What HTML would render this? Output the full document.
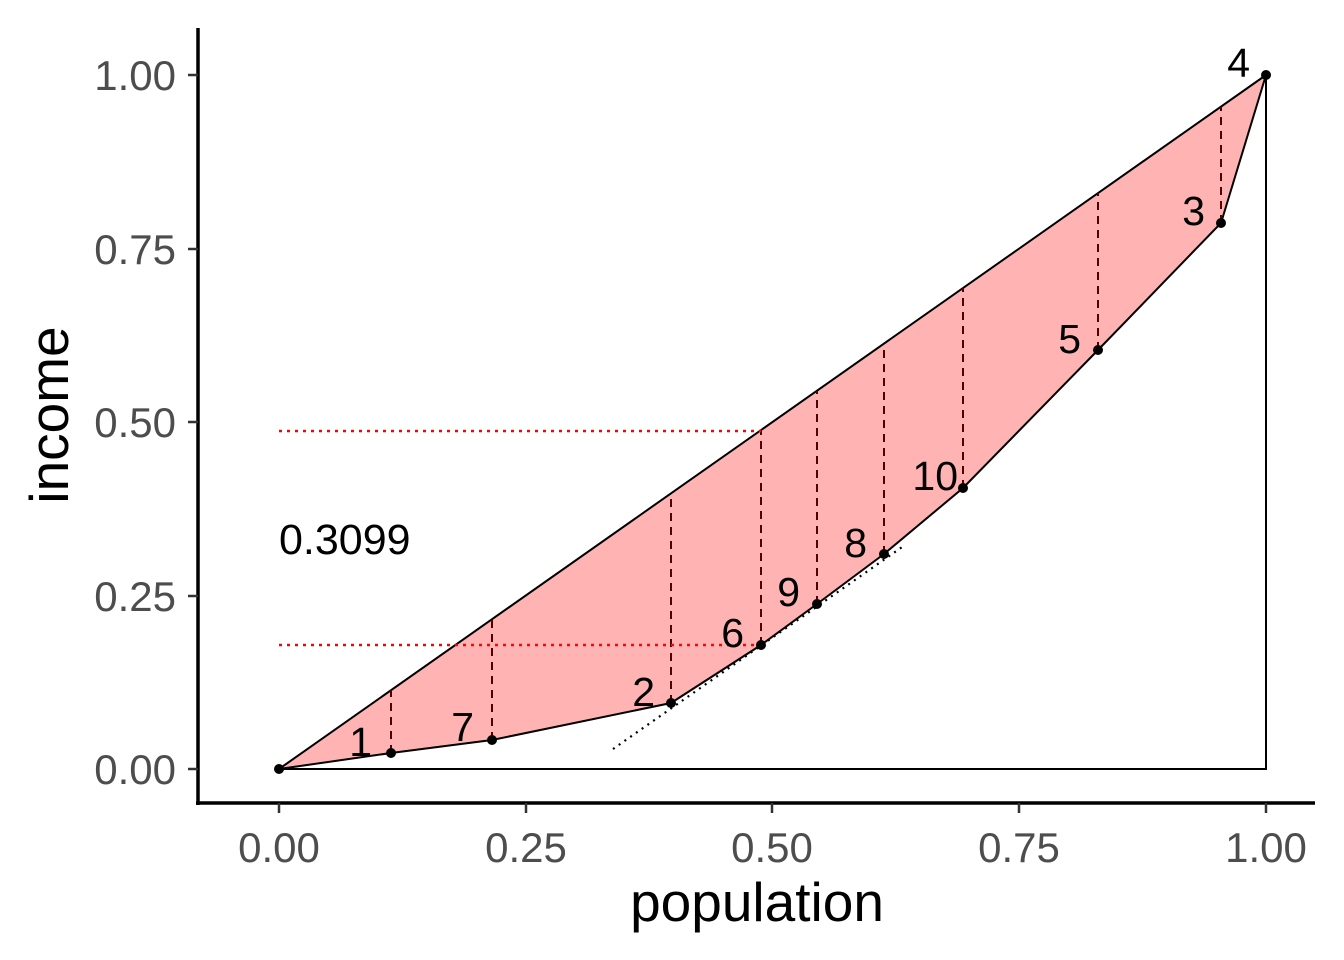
<!DOCTYPE html>
<html><head><meta charset="utf-8"><style>
html,body{margin:0;padding:0;background:#fff;}
svg{display:block;}
text{font-family:"Liberation Sans",sans-serif;}
</style></head><body>
<svg width="1344" height="960" viewBox="0 0 1344 960" xmlns="http://www.w3.org/2000/svg">
<polygon points="279,769 391,753 492,740 671,703 761,645 817,604 884,554 963,488 1098,350 1221,223 1266,75" fill="#ffb3b3" stroke="none"/>
<line x1="279" y1="769" x2="1266" y2="75" stroke="#000" stroke-width="2"/>
<polyline points="279,769 391,753 492,740 671,703 761,645 817,604 884,554 963,488 1098,350 1221,223 1266,75" fill="none" stroke="#000" stroke-width="2"/>
<polyline points="1266,75 1266,769 279,769" fill="none" stroke="#000" stroke-width="2"/>
<g stroke="#550000" stroke-width="2" stroke-dasharray="8,6">
<line x1="391" y1="753" x2="391" y2="690"/>
<line x1="492" y1="740" x2="492" y2="619"/>
<line x1="671" y1="703" x2="671" y2="493"/>
<line x1="761" y1="645" x2="761" y2="430"/>
<line x1="817" y1="604" x2="817" y2="391"/>
<line x1="884" y1="554" x2="884" y2="344"/>
<line x1="963" y1="488" x2="963" y2="288"/>
<line x1="1098" y1="350" x2="1098" y2="193"/>
<line x1="1221" y1="223" x2="1221" y2="107"/>
</g>
<g stroke="#ff0000" stroke-width="2.5" stroke-dasharray="3,5">
<line x1="279" y1="431" x2="761" y2="431"/>
<line x1="279" y1="645" x2="761" y2="645"/>
</g>
<line x1="613" y1="749" x2="905" y2="545" stroke="#000" stroke-width="2.2" stroke-dasharray="2,5"/>
<g fill="#000">
<circle cx="279" cy="769" r="5"/><circle cx="391" cy="753" r="5"/><circle cx="492" cy="740" r="5"/>
<circle cx="671" cy="703" r="5"/><circle cx="761" cy="645" r="5"/><circle cx="817" cy="604" r="5"/>
<circle cx="884" cy="554" r="5"/><circle cx="963" cy="488" r="5"/><circle cx="1098" cy="350" r="5"/>
<circle cx="1221" cy="223" r="5"/><circle cx="1266" cy="75" r="5"/>
</g>
<g font-size="41" fill="#000" text-anchor="end">
<text x="372" y="756">1</text>
<text x="474" y="741">7</text>
<text x="655" y="706">2</text>
<text x="744" y="647">6</text>
<text x="800" y="606">9</text>
<text x="867" y="557">8</text>
<text x="958" y="490">10</text>
<text x="1081" y="353">5</text>
<text x="1205" y="225">3</text>
<text x="1250" y="77">4</text>
</g>
<text x="279" y="554" font-size="43" fill="#000">0.3099</text>
<g stroke="#000" stroke-width="3.5">
<line x1="198" y1="28" x2="198" y2="805"/>
<line x1="196" y1="803" x2="1315" y2="803"/>
</g>
<g stroke="#333" stroke-width="2.5">
<line x1="188" y1="75" x2="198" y2="75"/><line x1="188" y1="249" x2="198" y2="249"/>
<line x1="188" y1="422" x2="198" y2="422"/><line x1="188" y1="596" x2="198" y2="596"/>
<line x1="188" y1="769" x2="198" y2="769"/>
<line x1="279" y1="803" x2="279" y2="813"/><line x1="526" y1="803" x2="526" y2="813"/>
<line x1="772" y1="803" x2="772" y2="813"/><line x1="1019" y1="803" x2="1019" y2="813"/>
<line x1="1266" y1="803" x2="1266" y2="813"/>
</g>
<g font-size="42" fill="#4d4d4d" text-anchor="end">
<text x="176" y="90">1.00</text><text x="176" y="264">0.75</text>
<text x="176" y="437">0.50</text><text x="176" y="611">0.25</text>
<text x="176" y="784">0.00</text>
</g>
<g font-size="42" fill="#4d4d4d" text-anchor="middle">
<text x="279" y="862">0.00</text><text x="526" y="862">0.25</text>
<text x="772" y="862">0.50</text><text x="1019" y="862">0.75</text>
<text x="1266" y="862">1.00</text>
</g>
<text x="757" y="921" font-size="55" fill="#000" text-anchor="middle">population</text>
<text transform="translate(68,415) rotate(-90)" font-size="55" fill="#000" text-anchor="middle">income</text>
</svg>
</body></html>
